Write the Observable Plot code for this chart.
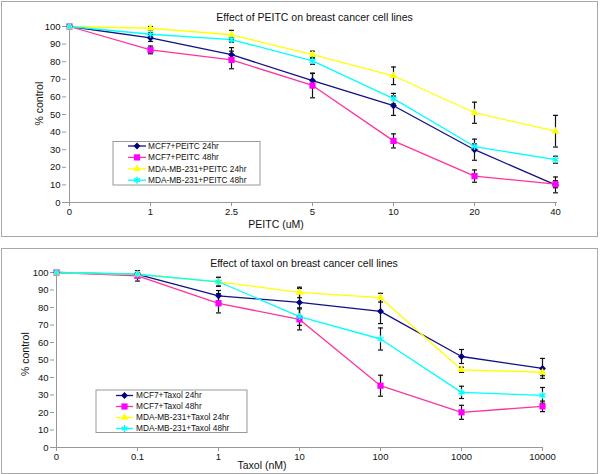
<!DOCTYPE html>
<html><head><meta charset="utf-8">
<script src="https://cdn.jsdelivr.net/npm/d3@7"></script>
<script src="https://cdn.jsdelivr.net/npm/@observablehq/plot@0.6"></script>
<style>
body{margin:0;background:#fff;}
#wrap{position:relative;width:600px;height:474px;overflow:hidden;background:#fff;font-family:"Liberation Sans",Arial,sans-serif;}
.box{position:absolute;border:1px solid #a8a8a8;box-sizing:border-box;z-index:2;pointer-events:none;}
.chart{position:absolute;left:0;z-index:1;}
</style></head><body>
<div id="wrap">
 <div class="chart" id="c1" style="top:0px"></div>
 <div class="chart" id="c2" style="top:236px"></div>
 <div class="box" style="left:1px;top:1px;width:597px;height:236px"></div>
 <div class="box" style="left:1px;top:248px;width:597px;height:226px"></div>
</div>
<script>
// ---------- data ----------
const yTicks = [0,10,20,30,40,50,60,70,80,90,100];

const peitcDoses = ["0","1","2.5","5","10","20","40"];
const peitcLabels = ["MCF7+PEITC 24hr","MCF7+PEITC 48hr","MDA-MB-231+PEITC 24hr","MDA-MB-231+PEITC 48hr"];
const peitcMCF7_24 = [100,93.5,84,69.3,55,30,10];
const peitcMCF7_24Err = [0,2,4,4,5.5,6,4.5];
const peitcMCF7_48 = [100,86.7,81,66.5,35,15,10.4];
const peitcMCF7_48Err = [0,2.2,5,7,4,3.5,2];
const peitcMDA_24 = [100,99,95.3,84,72,51,40.5];
const peitcMDA_24Err = [0,1,2.5,2,5,6,9];
const peitcMDA_48 = [100,95.6,92.6,80.5,59,31.8,24.3];
const peitcMDA_48Err = [0,1,1.5,2,3,1.5,2];

const taxolDoses = ["0","0.1","1","10","100","1000","10000"];
const taxolLabels = ["MCF7+Taxol 24hr","MCF7+Taxol 48hr","MDA-MB-231+Taxol 24hr","MDA-MB-231+Taxol 48hr"];
const taxolMCF7_24 = [100,98.9,86.7,82.9,77.8,52,45.2];
const taxolMCF7_24Err = [0,1,3,8,7,4,5.7];
const taxolMCF7_48 = [100,98.1,82.4,73.2,35.3,20.1,23.5];
const taxolMCF7_48Err = [0,3,5.5,6,6,4,3];
const taxolMDA_24 = [100,99,94.7,88.6,85.6,44.4,43];
const taxolMDA_24Err = [0,0.5,2.5,3,2.5,1.5,2];
const taxolMDA_48 = [100,99,94.7,74.8,62,31.5,29.8];
const taxolMDA_48Err = [0,0.5,2.5,5,6.3,3.5,4.5];

// ---------- styles ----------
const markerColors = ["#000080","#ff00ff","#ffff00","#00ffff"];
const lineColors = ["#101088","#ff3399","#ffff00","#00ffff"];
const symbolNames = ["diamond2","square","triangle","asterisk"];
const d3Symbols = [d3.symbolDiamond2, d3.symbolSquare, d3.symbolTriangle, d3.symbolAsterisk];
const symbolR = [3.1,3.5,2.8,3.3];
const capSymbol = {draw(ctx){ ctx.moveTo(-2.5,0); ctx.lineTo(2.5,0); }};
const FONT = "Liberation Sans, Arial, sans-serif";

function tidy(doses, means, errs, labels){
  return means.map((m,k)=>doses.map((d,i)=>({dose:d, value:m[i], err:errs[k][i], series:k, name:labels[k]})));
}

function makeChart(cfg){
  const series = tidy(cfg.doses, cfg.means, cfg.errs, cfg.labels);
  const marks = [
    Plot.ruleY([0], {stroke:"#999", strokeWidth:1}),
    Plot.ruleX([cfg.doses[0]], {stroke:"#999", strokeWidth:1}),
    Plot.axisY(yTicks, {tickSize:4, tickPadding:2, fontSize:9.5, label:null, stroke:"#999", fill:"#111"}),
    Plot.axisX({tickSize:4, tickPadding:2, fontSize:9.5, label:null, stroke:"#999", fill:"#111"}),
  ];
  series.forEach((s,k)=>marks.push(Plot.line(s,{x:"dose", y:"value", stroke:lineColors[k], strokeWidth:1.3})));
  series.forEach((s,k)=>{
    const e = s.filter(d=>d.err>0);
    marks.push(Plot.ruleX(e,{x:"dose", y1:d=>d.value-d.err, y2:d=>d.value+d.err, stroke:"#111", strokeWidth:1.2}));
    marks.push(Plot.dot(e,{x:"dose", y:d=>d.value-d.err, symbol:capSymbol, r:2, stroke:"#111", fill:"none", strokeWidth:1.2}));
    marks.push(Plot.dot(e,{x:"dose", y:d=>d.value+d.err, symbol:capSymbol, r:2, stroke:"#111", fill:"none", strokeWidth:1.2}));
  });
  series.forEach((s,k)=>{
    const stroke = symbolNames[k]==="asterisk";
    marks.push(Plot.dot(s,{x:"dose", y:"value", symbol:symbolNames[k], r:symbolR[k],
      fill: stroke ? "none" : markerColors[k], stroke: stroke ? markerColors[k] : "none", strokeWidth:1.4}));
  });
  marks.push(Plot.text([cfg.title],{frameAnchor:"top", dx:cfg.titleDx, dy:cfg.titleDy, fontSize:10.5, lineAnchor:"middle", fill:"#111"}));
  marks.push(Plot.text([cfg.xLabel],{frameAnchor:"bottom", dx:cfg.xlDx, dy:cfg.xlDy, fontSize:10.5, lineAnchor:"middle", fill:"#111"}));
  marks.push(Plot.text(["% control"],{frameAnchor:"left", rotate:-90, dx:cfg.ylDx, dy:cfg.ylDy, fontSize:10.5, lineAnchor:"middle", fill:"#111"}));

  const svg = Plot.plot({
    width:600, height:cfg.height,
    marginLeft:cfg.ml, marginRight:cfg.mr, marginTop:cfg.mt, marginBottom:cfg.mb,
    x:{type:"point", domain:cfg.doses, padding:0},
    y:{domain:[0,100]},
    style:{fontFamily:FONT, background:"transparent", overflow:"visible"},
    marks
  });

  // legend
  const L = cfg.legend;
  const g = d3.select(svg).append("g").attr("text-anchor","start");
  g.append("rect").attr("x",L.x).attr("y",L.y).attr("width",L.w).attr("height",L.h)
    .attr("fill","#fff").attr("stroke","#999").attr("stroke-width",1);
  cfg.labels.forEach((name,k)=>{
    const y = L.row0 + k*L.step;
    g.append("line").attr("x1",L.lx1).attr("x2",L.lx2).attr("y1",y).attr("y2",y)
      .attr("stroke",lineColors[k]).attr("stroke-width",1.3);
    const stroke = symbolNames[k]==="asterisk";
    g.append("path").attr("transform",`translate(${(L.lx1+L.lx2)/2},${y})`)
      .attr("d", d3.symbol(d3Symbols[k], symbolR[k]*symbolR[k]*Math.PI)())
      .attr("fill", stroke ? "none" : markerColors[k])
      .attr("stroke", stroke ? markerColors[k] : "none").attr("stroke-width",1.4);
    g.append("text").attr("x",L.tx).attr("y",y).attr("dy","0.35em").attr("text-anchor","start")
      .attr("font-size",8.3).attr("fill","#111").attr("font-family",FONT).text(name);
  });
  return svg;
}

document.getElementById("c1").append(makeChart({
  doses:peitcDoses, labels:peitcLabels,
  means:[peitcMCF7_24,peitcMCF7_48,peitcMDA_24,peitcMDA_48],
  errs:[peitcMCF7_24Err,peitcMCF7_48Err,peitcMDA_24Err,peitcMDA_48Err],
  title:"Effect of PEITC on breast cancer cell lines", xLabel:"PEITC (uM)",
  height:237, ml:66, mr:43, mt:26, mb:35,
  titleDx:2.5, titleDy:-9, xlDx:-36, xlDy:22, ylDx:-27, ylDy:11,
  legend:{x:113, y:141.5, w:147, h:43.5, row0:146, step:11.4, lx1:128, lx2:146, tx:148}
}));

document.getElementById("c2").append(makeChart({
  doses:taxolDoses, labels:taxolLabels,
  means:[taxolMCF7_24,taxolMCF7_48,taxolMDA_24,taxolMDA_48],
  errs:[taxolMCF7_24Err,taxolMCF7_48Err,taxolMDA_24Err,taxolMDA_48Err],
  title:"Effect of taxol on breast cancer cell lines", xLabel:"Taxol (nM)",
  height:238, ml:54, mr:57, mt:36, mb:27,
  titleDx:5, titleDy:-9, xlDx:-37, xlDy:18, ylDx:-29, ylDy:16,
  legend:{x:96, y:154, w:151, h:42.5, row0:159.5, step:11, lx1:116, lx2:133, tx:136}
}));
</script>
</body></html>
